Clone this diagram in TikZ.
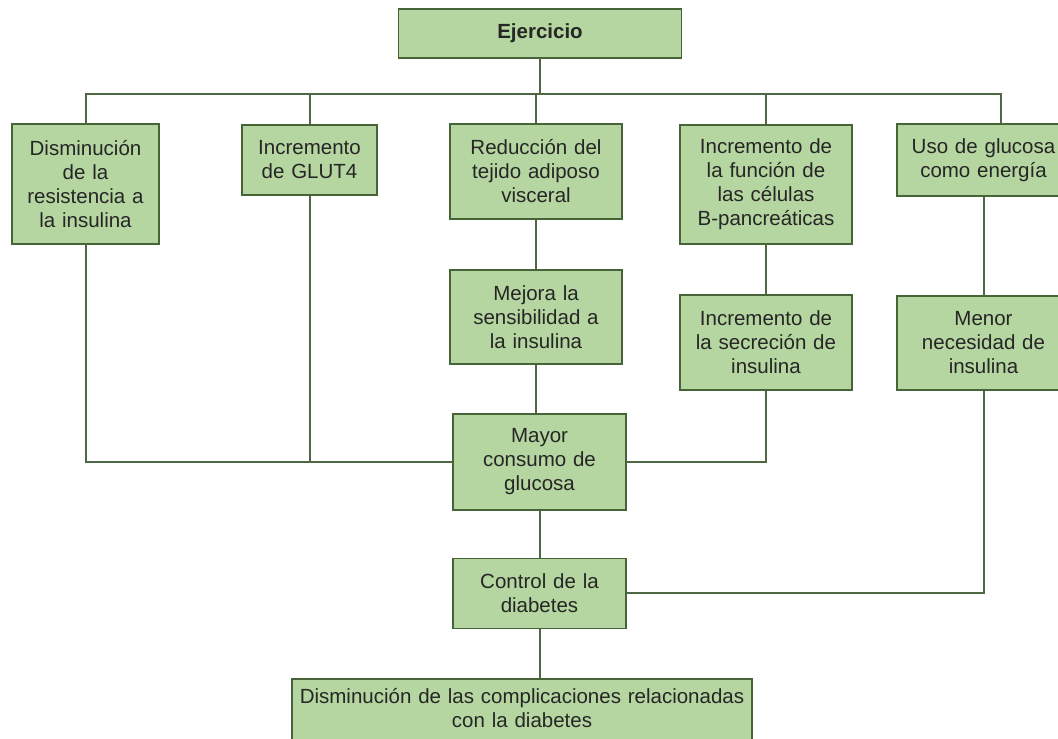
\documentclass[tikz,border=0pt]{standalone}
\usepackage{fontspec}
\setmainfont{Liberation Sans}
\usetikzlibrary{positioning}
\definecolor{cajaverde}{RGB}{181,214,160}
\definecolor{bordeverde}{RGB}{70,100,56}
\definecolor{lineaverde}{RGB}{78,104,68}
\tikzset{
  basic/.style = {draw=bordeverde, fill=cajaverde, line width=1.8pt, rectangle,
                  align=center, inner sep=0pt, text=black!85,
                  font=\fontsize{20.5}{24}\selectfont},
  root/.style  = {basic, font=\fontsize{20.5}{24}\selectfont\bfseries},
  col/.style   = {basic, text width=172pt},
  link/.style  = {draw=lineaverde, line width=2pt}
}

\begin{document}
\begin{tikzpicture}[x=1pt, y=-1pt, node distance=49pt]
\useasboundingbox (0,0) rectangle (1058,739);
\clip (0,0) rectangle (1058,739);

% raiz
\node[root, text width=283pt, minimum height=49pt] (ej) at (540,33.5) {Ejercicio};

% primer nivel
\node[basic, text width=147pt, minimum height=120pt] (d1) at (85.5,184) {Disminución\\de la\\resistencia a\\la insulina};
\node[basic, text width=135pt, minimum height=70pt] (d2) at (309.5,160) {Incremento\\de GLUT4};
\node[col, minimum height=95pt] (d3) at (536,171.5) {Reducción del\\tejido adiposo\\visceral};
\node[col, minimum height=119pt] (d4) at (766,184.5) {Incremento de\\la función de\\las células\\B-pancreáticas};
\node[col, text width=173pt, minimum height=72pt] (d5) at (983.5,160) {Uso de glucosa\\como energía};

% segundo nivel, posiciones relativas
\node[col, minimum height=94pt, below=of d3] (mej) {Mejora la\\sensibilidad a\\la insulina};
\node[col, minimum height=95pt, below=of d4] (sec) {Incremento de\\la secreción de\\insulina};
\node[col, text width=173pt, minimum height=94pt, below=98pt of d5] (men) {Menor\\necesidad de\\insulina};

\node[col, text width=173pt, minimum height=96pt, below=48pt of mej, xshift=3.5pt] (may) {Mayor\\consumo de\\glucosa};
\node[col, text width=173pt, minimum height=70pt, below=47pt of may] (con) {Control de la\\diabetes};
\node[basic, text width=460pt, minimum height=78pt, text depth=45pt, below=of con, xshift=-17.5pt] (fin) {Disminución de las complicaciones relacionadas\\con la diabetes};

% conexiones
\coordinate (bus) at (540,94);
\draw[link] (ej) -- (bus);
\draw[link] (d1.north) |- (bus) -| ([xshift=17pt]d5.north);
\foreach \n in {d2,d3,d4}
  \draw[link] (\n.north) -- (\n.north |- bus);

\draw[link] (d3) -- (mej);
\draw[link] (d4) -- (sec);
\draw[link] (d5) -- (men);
\draw[link] (mej.south) -- (mej.south |- may.north);

\draw[link] (d1.south) |- (may.west);
\draw[link] (d2.south) -- (d2.south |- may.west);
\draw[link] (sec.south) |- (may.east);

\draw[link] (may) -- (con);
\draw[link] (men.south) |- (con.east);
\draw[link] (con.south) -- (con.south |- fin.north);
\end{tikzpicture}
\end{document}
